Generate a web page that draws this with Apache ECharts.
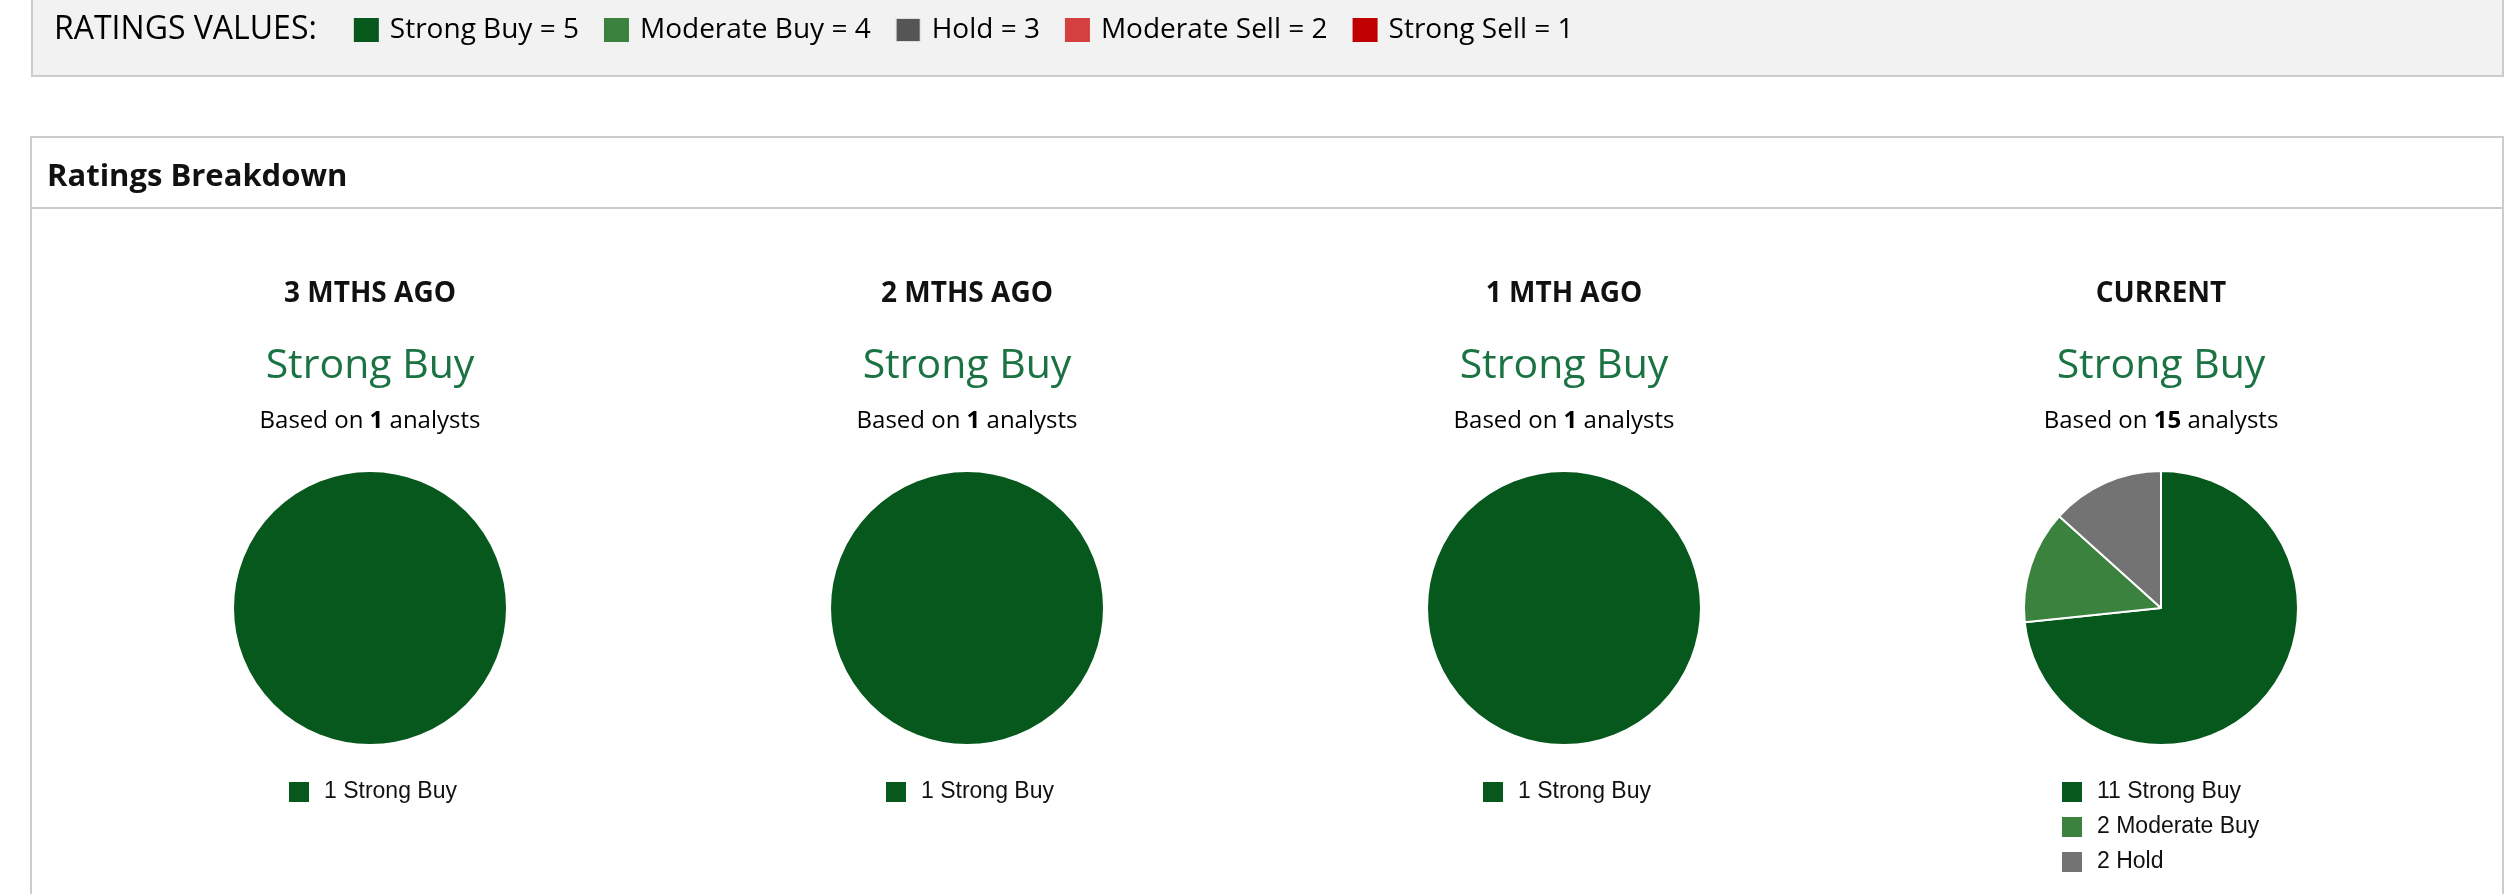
<!DOCTYPE html>
<html>
<head>
<meta charset="utf-8">
<title>Ratings Breakdown</title>
<script src="https://cdn.jsdelivr.net/npm/echarts@6/dist/echarts.min.js"></script>
<style>
  html, body { margin: 0; padding: 0; background: #fff; }
  #main { width: 2514px; height: 894px; }
</style>
</head>
<body>
<div id="main"></div>
<script>
// rating scale shown in the top strip
var ratingNames = ['Strong Buy', 'Moderate Buy', 'Hold', 'Moderate Sell', 'Strong Sell'];
var ratingScores = [5, 4, 3, 2, 1];
var ratingColors = ['#07581d', '#3a823d', '#737373', '#d44040', '#c00000'];
var keyColors = ['#07581d', '#3a823d', '#555555', '#d44040', '#c00000'];

// one column per period
var periods = ['3 MTHS AGO', '2 MTHS AGO', '1 MTH AGO', 'CURRENT'];
var consensus = ['Strong Buy', 'Strong Buy', 'Strong Buy', 'Strong Buy'];
var analysts = [1, 1, 1, 15];

// analyst counts per rating, per period
var strongBuy = [1, 1, 1, 11];
var moderateBuy = [0, 0, 0, 2];
var hold = [0, 0, 0, 2];
var moderateSell = [0, 0, 0, 0];
var strongSell = [0, 0, 0, 0];
var counts = [strongBuy, moderateBuy, hold, moderateSell, strongSell];

var chart = echarts.init(document.getElementById('main'));

var colX = [370, 967, 1564, 2161];
var headFont = '"Open Sans", "Noto Sans", sans-serif';

// top "RATINGS VALUES" strip as rich text
var keyText = '{lbl|RATINGS VALUES:}{sp0|}';
var keyRich = {
  lbl: { fontSize: 32, fontFamily: headFont, color: '#111' },
  sp0: { width: 38 }
};
ratingNames.forEach(function (n, i) {
  keyRich['sq' + i] = {
    width: 23, height: 22, backgroundColor: keyColors[i],
    borderColor: i == 2 ? '#dcdcdc' : keyColors[i], borderWidth: 1
  };
  keyRich['tx' + i] = { fontSize: 28, fontFamily: headFont, color: '#111', padding: [0, 0, 0, 12] };
  keyRich['gap' + i] = { width: 26 };
  keyText += '{sq' + i + '|}{tx' + i + '|' + n + ' = ' + ratingScores[i] + '}' + (i < ratingNames.length - 1 ? '{gap' + i + '|}' : '');
});

var graphic = [
  { type: 'rect', shape: { x: 32, y: -10, width: 2471, height: 86 },
    style: { fill: '#f2f2f2', stroke: '#cccccc', lineWidth: 2 }, z: 0 },
  { type: 'rect', shape: { x: 31, y: 137, width: 2472, height: 800 },
    style: { fill: '#ffffff', stroke: '#cccccc', lineWidth: 2 }, z: 0 },
  { type: 'line', shape: { x1: 31, y1: 208, x2: 2503, y2: 208 },
    style: { stroke: '#cccccc', lineWidth: 2 }, z: 1 },
  { type: 'text', x: 54, y: 30, z: 2,
    style: { text: keyText, rich: keyRich, verticalAlign: 'middle', align: 'left' } },
  { type: 'text', x: 47, y: 177, z: 2,
    style: { text: 'Ratings Breakdown', font: 'bold 31px ' + headFont, fill: '#111',
      verticalAlign: 'middle', align: 'left' } }
];

var series = [];
var legends = [];

periods.forEach(function (p, c) {
  graphic.push({ type: 'text', x: colX[c], y: 294, z: 2,
    style: { text: p, font: 'bold 28px ' + headFont, fill: '#111', align: 'center', verticalAlign: 'middle' } });
  graphic.push({ type: 'text', x: colX[c], y: 366, z: 2,
    style: { text: consensus[c], font: '41px ' + headFont, fill: '#1b7343', align: 'center', verticalAlign: 'middle' } });
  graphic.push({ type: 'text', x: colX[c], y: 421, z: 2,
    style: {
      text: '{n|Based on }{b|' + analysts[c] + '}{n| analysts}',
      rich: {
        n: { fontSize: 24, fontFamily: headFont, color: '#111' },
        b: { fontSize: 24, fontFamily: headFont, fontWeight: 'bold', color: '#111' }
      },
      align: 'center', verticalAlign: 'middle'
    } });

  var data = [];
  ratingNames.forEach(function (n, i) {
    if (counts[i][c] > 0) {
      data.push({ name: n, value: counts[i][c], itemStyle: { color: ratingColors[i] } });
    }
  });

  series.push({
    type: 'pie',
    name: p,
    center: [colX[c], 608],
    radius: 137,
    startAngle: 90,
    clockwise: true,
    label: { show: false },
    labelLine: { show: false },
    emphasis: { disabled: true },
    itemStyle: { borderColor: '#ffffff', borderWidth: 2 },
    data: data
  });

  var legendX = c == 3 ? colX[c] - 101 : colX[c] - 83;
  legends.push({
    orient: 'vertical',
    left: legendX,
    top: 780,
    padding: 0,
    icon: 'rect',
    itemWidth: 22,
    itemHeight: 22,
    itemGap: 11,
    selectedMode: false,
    data: data.map(function (d) { return d.name; }),
    formatter: (function (d) {
      return function (name) {
        for (var k = 0; k < d.length; k++) {
          if (d[k].name == name) return d[k].value + ' ' + name;
        }
        return name;
      };
    })(data),
    textStyle: { fontSize: 23, fontFamily: '"Liberation Sans", Arial, sans-serif', color: '#111', padding: [0, 0, 0, 9] }
  });
});

chart.setOption({
  animation: false,
  backgroundColor: '#ffffff',
  tooltip: { show: false },
  graphic: graphic,
  legend: legends,
  series: series
});
</script>
</body>
</html>
